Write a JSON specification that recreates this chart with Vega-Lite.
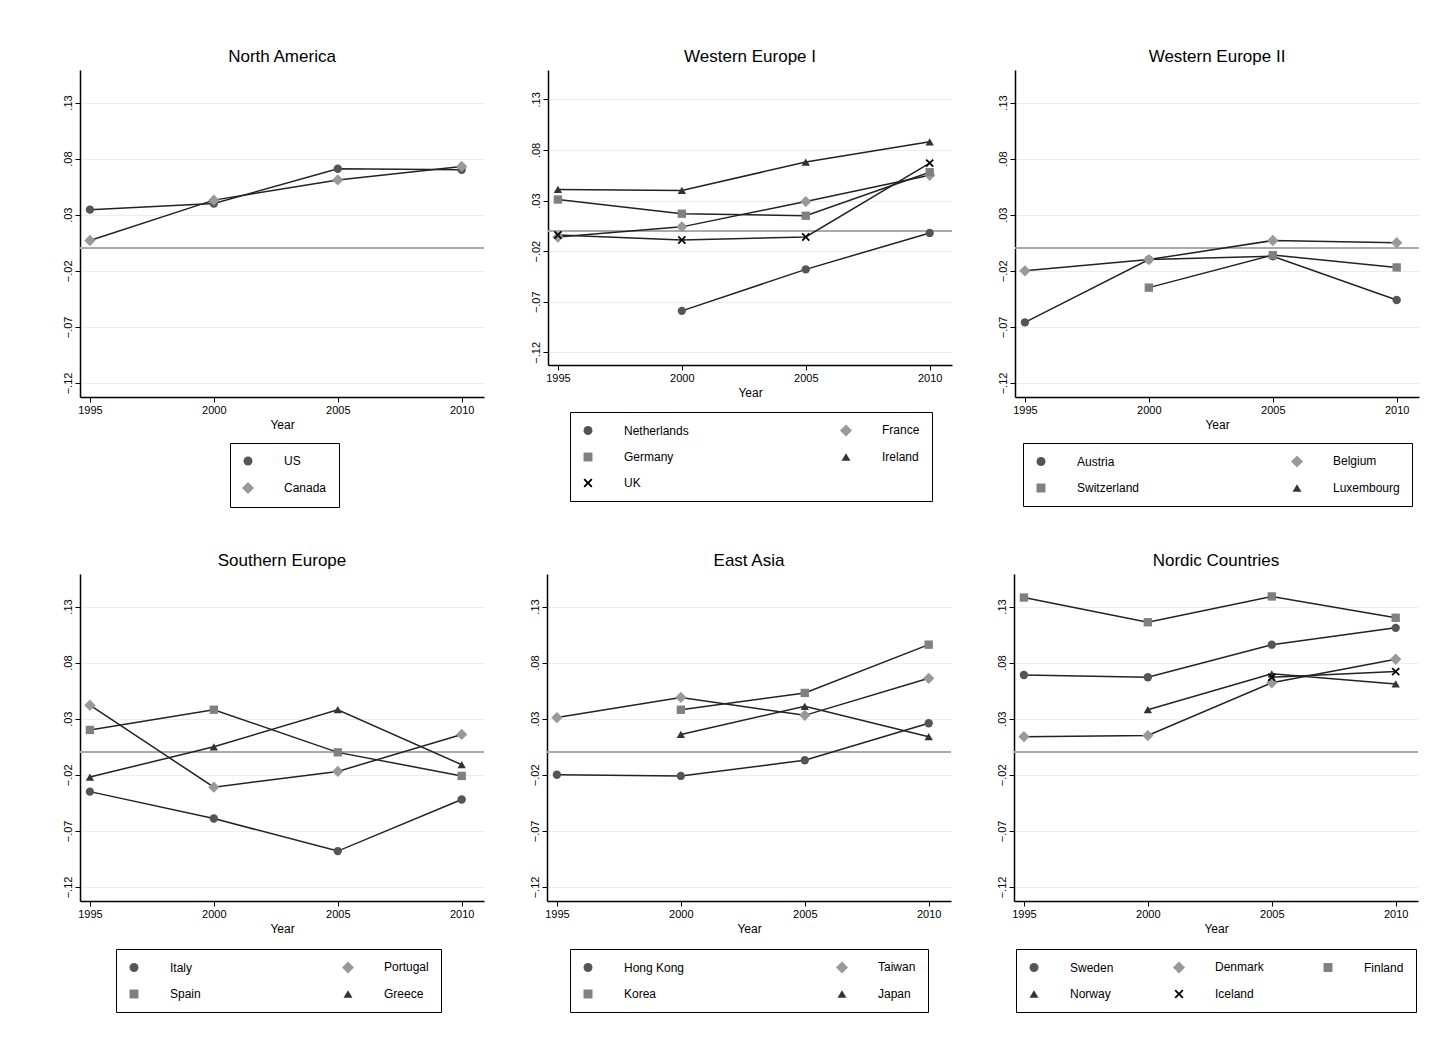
{
  "$schema": "https://vega.github.io/schema/vega-lite/v6.json",
  "background": "white",
  "padding": {"left": 62, "top": 48, "right": 5, "bottom": 5},
  "datasets": {
    "d": [
      {"p":"NA","c":"US","yr":1995,"v":0.0345},{"p":"NA","c":"US","yr":2000,"v":0.040},{"p":"NA","c":"US","yr":2005,"v":0.071},{"p":"NA","c":"US","yr":2010,"v":0.070},
      {"p":"NA","c":"Canada","yr":1995,"v":0.007},{"p":"NA","c":"Canada","yr":2000,"v":0.043},{"p":"NA","c":"Canada","yr":2005,"v":0.061},{"p":"NA","c":"Canada","yr":2010,"v":0.073},
      {"p":"WE1","c":"Netherlands","yr":2000,"v":-0.079},{"p":"WE1","c":"Netherlands","yr":2005,"v":-0.038},{"p":"WE1","c":"Netherlands","yr":2010,"v":-0.002},
      {"p":"WE1","c":"France","yr":1995,"v":-0.006},{"p":"WE1","c":"France","yr":2000,"v":0.004},{"p":"WE1","c":"France","yr":2005,"v":0.029},{"p":"WE1","c":"France","yr":2010,"v":0.055},
      {"p":"WE1","c":"Germany","yr":1995,"v":0.031},{"p":"WE1","c":"Germany","yr":2000,"v":0.017},{"p":"WE1","c":"Germany","yr":2005,"v":0.015},{"p":"WE1","c":"Germany","yr":2010,"v":0.058},
      {"p":"WE1","c":"Ireland","yr":1995,"v":0.041},{"p":"WE1","c":"Ireland","yr":2000,"v":0.040},{"p":"WE1","c":"Ireland","yr":2005,"v":0.068},{"p":"WE1","c":"Ireland","yr":2010,"v":0.088},
      {"p":"WE1","c":"UK","yr":1995,"v":-0.004},{"p":"WE1","c":"UK","yr":2000,"v":-0.009},{"p":"WE1","c":"UK","yr":2005,"v":-0.006},{"p":"WE1","c":"UK","yr":2010,"v":0.067},
      {"p":"WE2","c":"Austria","yr":1995,"v":-0.066},{"p":"WE2","c":"Austria","yr":2000,"v":-0.010},{"p":"WE2","c":"Austria","yr":2005,"v":-0.007},{"p":"WE2","c":"Austria","yr":2010,"v":-0.046},
      {"p":"WE2","c":"Belgium","yr":1995,"v":-0.020},{"p":"WE2","c":"Belgium","yr":2000,"v":-0.010},{"p":"WE2","c":"Belgium","yr":2005,"v":0.007},{"p":"WE2","c":"Belgium","yr":2010,"v":0.005},
      {"p":"WE2","c":"Switzerland","yr":2000,"v":-0.035},{"p":"WE2","c":"Switzerland","yr":2005,"v":-0.006},{"p":"WE2","c":"Switzerland","yr":2010,"v":-0.017},
      {"p":"SE","c":"Italy","yr":1995,"v":-0.035},{"p":"SE","c":"Italy","yr":2000,"v":-0.059},{"p":"SE","c":"Italy","yr":2005,"v":-0.088},{"p":"SE","c":"Italy","yr":2010,"v":-0.042},
      {"p":"SE","c":"Portugal","yr":1995,"v":0.042},{"p":"SE","c":"Portugal","yr":2000,"v":-0.031},{"p":"SE","c":"Portugal","yr":2005,"v":-0.017},{"p":"SE","c":"Portugal","yr":2010,"v":0.016},
      {"p":"SE","c":"Spain","yr":1995,"v":0.020},{"p":"SE","c":"Spain","yr":2000,"v":0.038},{"p":"SE","c":"Spain","yr":2005,"v":0.000},{"p":"SE","c":"Spain","yr":2010,"v":-0.021},
      {"p":"SE","c":"Greece","yr":1995,"v":-0.022},{"p":"SE","c":"Greece","yr":2000,"v":0.005},{"p":"SE","c":"Greece","yr":2005,"v":0.038},{"p":"SE","c":"Greece","yr":2010,"v":-0.011},
      {"p":"EA","c":"Hong Kong","yr":1995,"v":-0.020},{"p":"EA","c":"Hong Kong","yr":2000,"v":-0.021},{"p":"EA","c":"Hong Kong","yr":2005,"v":-0.007},{"p":"EA","c":"Hong Kong","yr":2010,"v":0.026},
      {"p":"EA","c":"Taiwan","yr":1995,"v":0.031},{"p":"EA","c":"Taiwan","yr":2000,"v":0.049},{"p":"EA","c":"Taiwan","yr":2005,"v":0.033},{"p":"EA","c":"Taiwan","yr":2010,"v":0.066},
      {"p":"EA","c":"Korea","yr":2000,"v":0.038},{"p":"EA","c":"Korea","yr":2005,"v":0.053},{"p":"EA","c":"Korea","yr":2010,"v":0.096},
      {"p":"EA","c":"Japan","yr":2000,"v":0.016},{"p":"EA","c":"Japan","yr":2005,"v":0.041},{"p":"EA","c":"Japan","yr":2010,"v":0.014},
      {"p":"NC","c":"Sweden","yr":1995,"v":0.069},{"p":"NC","c":"Sweden","yr":2000,"v":0.067},{"p":"NC","c":"Sweden","yr":2005,"v":0.096},{"p":"NC","c":"Sweden","yr":2010,"v":0.111},
      {"p":"NC","c":"Denmark","yr":1995,"v":0.014},{"p":"NC","c":"Denmark","yr":2000,"v":0.015},{"p":"NC","c":"Denmark","yr":2005,"v":0.062},{"p":"NC","c":"Denmark","yr":2010,"v":0.083},
      {"p":"NC","c":"Finland","yr":1995,"v":0.138},{"p":"NC","c":"Finland","yr":2000,"v":0.116},{"p":"NC","c":"Finland","yr":2005,"v":0.139},{"p":"NC","c":"Finland","yr":2010,"v":0.120},
      {"p":"NC","c":"Norway","yr":2000,"v":0.038},{"p":"NC","c":"Norway","yr":2005,"v":0.070},{"p":"NC","c":"Norway","yr":2010,"v":0.061},
      {"p":"NC","c":"Iceland","yr":2005,"v":0.067},{"p":"NC","c":"Iceland","yr":2010,"v":0.072}
    ]
  },
  "vconcat": [
    {
      "hconcat": [
        {
          "title": "North America", "width": 404, "height": 327,
          "data": {"name": "d"}, "transform": [{"filter": "datum.p == 'NA'"}],
          "encoding": {
            "x": {"field": "yr", "type": "quantitative", "title": "Year", "scale": {"domain": [1994.6, 2010.9], "nice": false}, "axis": {"values": [1995, 2000, 2005, 2010], "format": "d", "grid": false}},
            "y": {"field": "v", "type": "quantitative", "title": null, "scale": {"domain": [-0.1325, 0.159], "nice": false}, "axis": {"values": [-0.12, -0.07, -0.02, 0.03, 0.08, 0.13], "labelExpr": "replace(format(datum.value, '.2f'), '0.', '.')", "labelAngle": -90, "labelAlign": "center", "labelBaseline": "bottom"}}
          },
          "layer": [
            {"mark": {"type": "rule", "color": "#aaaaaa", "strokeWidth": 1.5}, "encoding": {"y": {"datum": 0}, "x": {}}},
            {"mark": {"type": "line", "color": "#222222", "strokeWidth": 1.5}, "encoding": {"detail": {"field": "c"}}},
            {"mark": {"type": "point", "filled": true, "size": 70, "opacity": 1},
             "encoding": {
               "color": {"field": "c", "type": "nominal", "title": null, "scale": {"domain": ["US", "Canada"], "range": ["#555555", "#999999"]}, "legend": {"columns": 1, "orient": "none", "legendX": 150, "legendY": 373}},
               "shape": {"field": "c", "type": "nominal", "title": null, "scale": {"domain": ["US", "Canada"], "range": ["circle", "M0,-1.35L1.35,0L0,1.35L-1.35,0Z"]}}
             }}
          ]
        },
        {
          "title": "Western Europe I", "width": 404, "height": 295,
          "data": {"name": "d"}, "transform": [{"filter": "datum.p == 'WE1'"}],
          "encoding": {
            "x": {"field": "yr", "type": "quantitative", "title": "Year", "scale": {"domain": [1994.6, 2010.9], "nice": false}, "axis": {"values": [1995, 2000, 2005, 2010], "format": "d", "grid": false}},
            "y": {"field": "v", "type": "quantitative", "title": null, "scale": {"domain": [-0.1325, 0.159], "nice": false}, "axis": {"values": [-0.12, -0.07, -0.02, 0.03, 0.08, 0.13], "labelExpr": "replace(format(datum.value, '.2f'), '0.', '.')", "labelAngle": -90, "labelAlign": "center", "labelBaseline": "bottom"}}
          },
          "layer": [
            {"mark": {"type": "rule", "color": "#aaaaaa", "strokeWidth": 1.5}, "encoding": {"y": {"datum": 0}, "x": {}}},
            {"mark": {"type": "line", "color": "#222222", "strokeWidth": 1.5}, "encoding": {"detail": {"field": "c"}}},
            {"mark": {"type": "point", "filled": true, "size": 70, "opacity": 1},
             "encoding": {
               "color": {"field": "c", "type": "nominal", "title": null, "scale": {"domain": ["Netherlands", "France", "Germany", "Ireland", "UK"], "range": ["#555555", "#999999", "#808080", "#333333", "#000000"]}, "legend": {"columns": 2, "columnPadding": 150, "orient": "none", "legendX": 22, "legendY": 342}},
               "shape": {"field": "c", "type": "nominal", "title": null, "scale": {"domain": ["Netherlands", "France", "Germany", "Ireland", "UK"], "range": ["circle", "M0,-1.35L1.35,0L0,1.35L-1.35,0Z", "square", "triangle-up", "M-1,-0.7L-0.7,-1L0,-0.3L0.7,-1L1,-0.7L0.3,0L1,0.7L0.7,1L0,0.3L-0.7,1L-1,0.7L-0.3,0Z"]}}
             }}
          ]
        },
        {
          "title": "Western Europe II", "width": 404, "height": 327,
          "data": {"name": "d"}, "transform": [{"filter": "datum.p == 'WE2'"}],
          "encoding": {
            "x": {"field": "yr", "type": "quantitative", "title": "Year", "scale": {"domain": [1994.6, 2010.9], "nice": false}, "axis": {"values": [1995, 2000, 2005, 2010], "format": "d", "grid": false}},
            "y": {"field": "v", "type": "quantitative", "title": null, "scale": {"domain": [-0.1325, 0.159], "nice": false}, "axis": {"values": [-0.12, -0.07, -0.02, 0.03, 0.08, 0.13], "labelExpr": "replace(format(datum.value, '.2f'), '0.', '.')", "labelAngle": -90, "labelAlign": "center", "labelBaseline": "bottom"}}
          },
          "layer": [
            {"mark": {"type": "rule", "color": "#aaaaaa", "strokeWidth": 1.5}, "encoding": {"y": {"datum": 0}, "x": {}}},
            {"mark": {"type": "line", "color": "#222222", "strokeWidth": 1.5}, "encoding": {"detail": {"field": "c"}}},
            {"mark": {"type": "point", "filled": true, "size": 70, "opacity": 1},
             "encoding": {
               "color": {"field": "c", "type": "nominal", "title": null, "scale": {"domain": ["Austria", "Belgium", "Switzerland", "Luxembourg"], "range": ["#555555", "#999999", "#808080", "#333333"]}, "legend": {"columns": 2, "columnPadding": 150, "orient": "none", "legendX": 8, "legendY": 373}},
               "shape": {"field": "c", "type": "nominal", "title": null, "scale": {"domain": ["Austria", "Belgium", "Switzerland", "Luxembourg"], "range": ["circle", "M0,-1.35L1.35,0L0,1.35L-1.35,0Z", "square", "triangle-up"]}}
             }}
          ]
        }
      ],
      "resolve": {"scale": {"color": "independent", "shape": "independent"}, "legend": {"color": "independent", "shape": "independent"}}
    },
    {
      "hconcat": [
        {
          "title": "Southern Europe", "width": 404, "height": 327,
          "data": {"name": "d"}, "transform": [{"filter": "datum.p == 'SE'"}],
          "encoding": {
            "x": {"field": "yr", "type": "quantitative", "title": "Year", "scale": {"domain": [1994.6, 2010.9], "nice": false}, "axis": {"values": [1995, 2000, 2005, 2010], "format": "d", "grid": false}},
            "y": {"field": "v", "type": "quantitative", "title": null, "scale": {"domain": [-0.1325, 0.159], "nice": false}, "axis": {"values": [-0.12, -0.07, -0.02, 0.03, 0.08, 0.13], "labelExpr": "replace(format(datum.value, '.2f'), '0.', '.')", "labelAngle": -90, "labelAlign": "center", "labelBaseline": "bottom"}}
          },
          "layer": [
            {"mark": {"type": "rule", "color": "#aaaaaa", "strokeWidth": 1.5}, "encoding": {"y": {"datum": 0}, "x": {}}},
            {"mark": {"type": "line", "color": "#222222", "strokeWidth": 1.5}, "encoding": {"detail": {"field": "c"}}},
            {"mark": {"type": "point", "filled": true, "size": 70, "opacity": 1},
             "encoding": {
               "color": {"field": "c", "type": "nominal", "title": null, "scale": {"domain": ["Italy", "Portugal", "Spain", "Greece"], "range": ["#555555", "#999999", "#808080", "#333333"]}, "legend": {"columns": 2, "columnPadding": 140, "orient": "none", "legendX": 36, "legendY": 375}},
               "shape": {"field": "c", "type": "nominal", "title": null, "scale": {"domain": ["Italy", "Portugal", "Spain", "Greece"], "range": ["circle", "M0,-1.35L1.35,0L0,1.35L-1.35,0Z", "square", "triangle-up"]}}
             }}
          ]
        },
        {
          "title": "East Asia", "width": 404, "height": 327,
          "data": {"name": "d"}, "transform": [{"filter": "datum.p == 'EA'"}],
          "encoding": {
            "x": {"field": "yr", "type": "quantitative", "title": "Year", "scale": {"domain": [1994.6, 2010.9], "nice": false}, "axis": {"values": [1995, 2000, 2005, 2010], "format": "d", "grid": false}},
            "y": {"field": "v", "type": "quantitative", "title": null, "scale": {"domain": [-0.1325, 0.159], "nice": false}, "axis": {"values": [-0.12, -0.07, -0.02, 0.03, 0.08, 0.13], "labelExpr": "replace(format(datum.value, '.2f'), '0.', '.')", "labelAngle": -90, "labelAlign": "center", "labelBaseline": "bottom"}}
          },
          "layer": [
            {"mark": {"type": "rule", "color": "#aaaaaa", "strokeWidth": 1.5}, "encoding": {"y": {"datum": 0}, "x": {}}},
            {"mark": {"type": "line", "color": "#222222", "strokeWidth": 1.5}, "encoding": {"detail": {"field": "c"}}},
            {"mark": {"type": "point", "filled": true, "size": 70, "opacity": 1},
             "encoding": {
               "color": {"field": "c", "type": "nominal", "title": null, "scale": {"domain": ["Hong Kong", "Taiwan", "Korea", "Japan"], "range": ["#555555", "#999999", "#808080", "#333333"]}, "legend": {"columns": 2, "columnPadding": 150, "orient": "none", "legendX": 23, "legendY": 375}},
               "shape": {"field": "c", "type": "nominal", "title": null, "scale": {"domain": ["Hong Kong", "Taiwan", "Korea", "Japan"], "range": ["circle", "M0,-1.35L1.35,0L0,1.35L-1.35,0Z", "square", "triangle-up"]}}
             }}
          ]
        },
        {
          "title": "Nordic Countries", "width": 404, "height": 327,
          "data": {"name": "d"}, "transform": [{"filter": "datum.p == 'NC'"}],
          "encoding": {
            "x": {"field": "yr", "type": "quantitative", "title": "Year", "scale": {"domain": [1994.6, 2010.9], "nice": false}, "axis": {"values": [1995, 2000, 2005, 2010], "format": "d", "grid": false}},
            "y": {"field": "v", "type": "quantitative", "title": null, "scale": {"domain": [-0.1325, 0.159], "nice": false}, "axis": {"values": [-0.12, -0.07, -0.02, 0.03, 0.08, 0.13], "labelExpr": "replace(format(datum.value, '.2f'), '0.', '.')", "labelAngle": -90, "labelAlign": "center", "labelBaseline": "bottom"}}
          },
          "layer": [
            {"mark": {"type": "rule", "color": "#aaaaaa", "strokeWidth": 1.5}, "encoding": {"y": {"datum": 0}, "x": {}}},
            {"mark": {"type": "line", "color": "#222222", "strokeWidth": 1.5}, "encoding": {"detail": {"field": "c"}}},
            {"mark": {"type": "point", "filled": true, "size": 70, "opacity": 1},
             "encoding": {
               "color": {"field": "c", "type": "nominal", "title": null, "scale": {"domain": ["Sweden", "Denmark", "Finland", "Norway", "Iceland"], "range": ["#555555", "#999999", "#808080", "#333333", "#000000"]}, "legend": {"columns": 3, "columnPadding": 58, "orient": "none", "legendX": 2, "legendY": 375}},
               "shape": {"field": "c", "type": "nominal", "title": null, "scale": {"domain": ["Sweden", "Denmark", "Finland", "Norway", "Iceland"], "range": ["circle", "M0,-1.35L1.35,0L0,1.35L-1.35,0Z", "square", "triangle-up", "M-1,-0.7L-0.7,-1L0,-0.3L0.7,-1L1,-0.7L0.3,0L1,0.7L0.7,1L0,0.3L-0.7,1L-1,0.7L-0.3,0Z"]}}
             }}
          ]
        }
      ],
      "resolve": {"scale": {"color": "independent", "shape": "independent"}, "legend": {"color": "independent", "shape": "independent"}}
    }
  ],
  "spacing": 44,
  "config": {
    "font": "Liberation Sans",
    "concat": {"spacing": 44},
    "view": {"stroke": null},
    "title": {"fontSize": 17, "fontWeight": "normal", "color": "#000000", "offset": 4},
    "axis": {"labelFontSize": 11, "titleFontSize": 12, "titleFontWeight": "normal", "labelColor": "#000", "titleColor": "#000", "domainColor": "#000", "tickColor": "#000", "gridColor": "#e8eef2", "domainWidth": 1.5},
    "legend": {"direction": "horizontal", "strokeColor": "#000", "padding": 12, "labelFontSize": 12, "labelColor": "#000", "rowPadding": 14, "symbolSize": 80, "labelLimit": 200, "labelOffset": 30, "symbolStrokeWidth": 0}
  }
}
